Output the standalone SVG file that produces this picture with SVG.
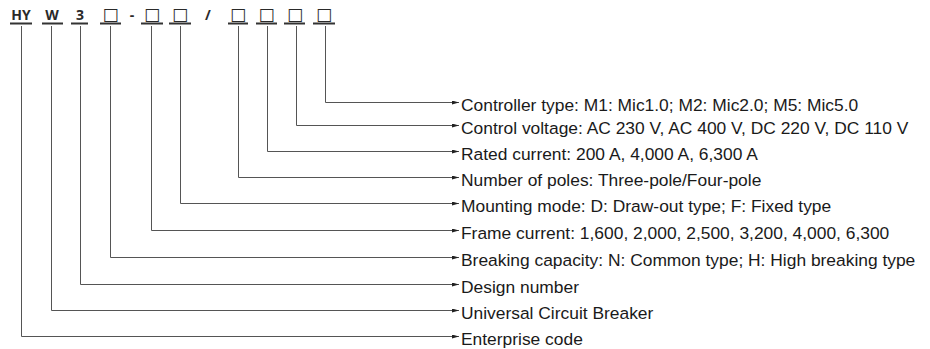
<svg xmlns="http://www.w3.org/2000/svg" width="930" height="349" viewBox="0 0 930 349">
<defs>
<style>
.hd{font-family:"Open Sans","DejaVu Sans",sans-serif;font-weight:bold;font-size:14px;fill:#2a2a2a;text-anchor:middle}
.sq{font-family:"DejaVu Sans",sans-serif;font-size:17px;fill:#2a2a2a;text-anchor:middle}
.ul{stroke:#333;stroke-width:2;fill:none}
.cn{stroke:#555;stroke-width:1;fill:none;marker-end:url(#ah)}
.lb{font-family:"Liberation Sans",Arial,sans-serif;font-size:17.4px;fill:#1a1a1a}
</style>
<marker id="ah" viewBox="0 0 7 4" refX="7" refY="2" markerWidth="7" markerHeight="4" markerUnits="userSpaceOnUse" orient="auto">
<path d="M0,0 L7,2 L0,4 Z" fill="#222"/>
</marker>
</defs>
<rect width="930" height="349" fill="#fff"/>
<g id="code">
<text class="hd" x="21" y="20">HY</text>
<text class="hd" x="52" y="20">W</text>
<text class="hd" x="80" y="20">3</text>
<text class="sq" x="110.5" y="19.5">□</text>
<text class="hd" x="132" y="20">-</text>
<text class="sq" x="152" y="19.5">□</text>
<text class="sq" x="180" y="19.5">□</text>
<text class="hd" x="208" y="20">/</text>
<text class="sq" x="238" y="19.5">□</text>
<text class="sq" x="266.5" y="19.5">□</text>
<text class="sq" x="295" y="19.5">□</text>
<text class="sq" x="324" y="19.5">□</text>
<path class="ul" d="M10,23.5H32M42,23.5H63M71,23.5H88M100,23.5H121M141,23.5H163M169,23.5H191M228,23.5H248M256,23.5H277M284,23.5H305M313,23.5H335"/>
</g>
<g id="connectors">
<path class="cn" d="M325.5,26V102.5H459"/>
<path class="cn" d="M296.5,26V125.5H459"/>
<path class="cn" d="M267.5,26V151.5H459"/>
<path class="cn" d="M238.5,26V177.5H459"/>
<path class="cn" d="M180.5,26V203.5H459"/>
<path class="cn" d="M151.5,26V230.5H459"/>
<path class="cn" d="M110.5,26V257.5H459"/>
<path class="cn" d="M80.5,26V284.5H459"/>
<path class="cn" d="M51.5,26V310.5H459"/>
<path class="cn" d="M21.5,26V336.5H459"/>
</g>
<g id="n-controller"><text class="lb" x="461" y="111">Controller type: M1: Mic1.0; M2: Mic2.0; M5: Mic5.0</text></g>
<g id="n-voltage"><text class="lb" x="461" y="134">Control voltage: AC 230 V, AC 400 V, DC 220 V, DC 110 V</text></g>
<g id="n-rated"><text class="lb" x="461" y="160">Rated current: 200 A, 4,000 A, 6,300 A</text></g>
<g id="n-poles"><text class="lb" x="461" y="186">Number of poles: Three-pole/Four-pole</text></g>
<g id="n-mounting"><text class="lb" x="461" y="212">Mounting mode: D: Draw-out type; F: Fixed type</text></g>
<g id="n-frame"><text class="lb" x="461" y="239">Frame current: 1,600, 2,000, 2,500, 3,200, 4,000, 6,300</text></g>
<g id="n-breaking"><text class="lb" x="461" y="266">Breaking capacity: N: Common type; H: High breaking type</text></g>
<g id="n-design"><text class="lb" x="461" y="293">Design number</text></g>
<g id="n-ucb"><text class="lb" x="461" y="319">Universal Circuit Breaker</text></g>
<g id="n-enterprise"><text class="lb" x="461" y="345">Enterprise code</text></g>
</svg>
